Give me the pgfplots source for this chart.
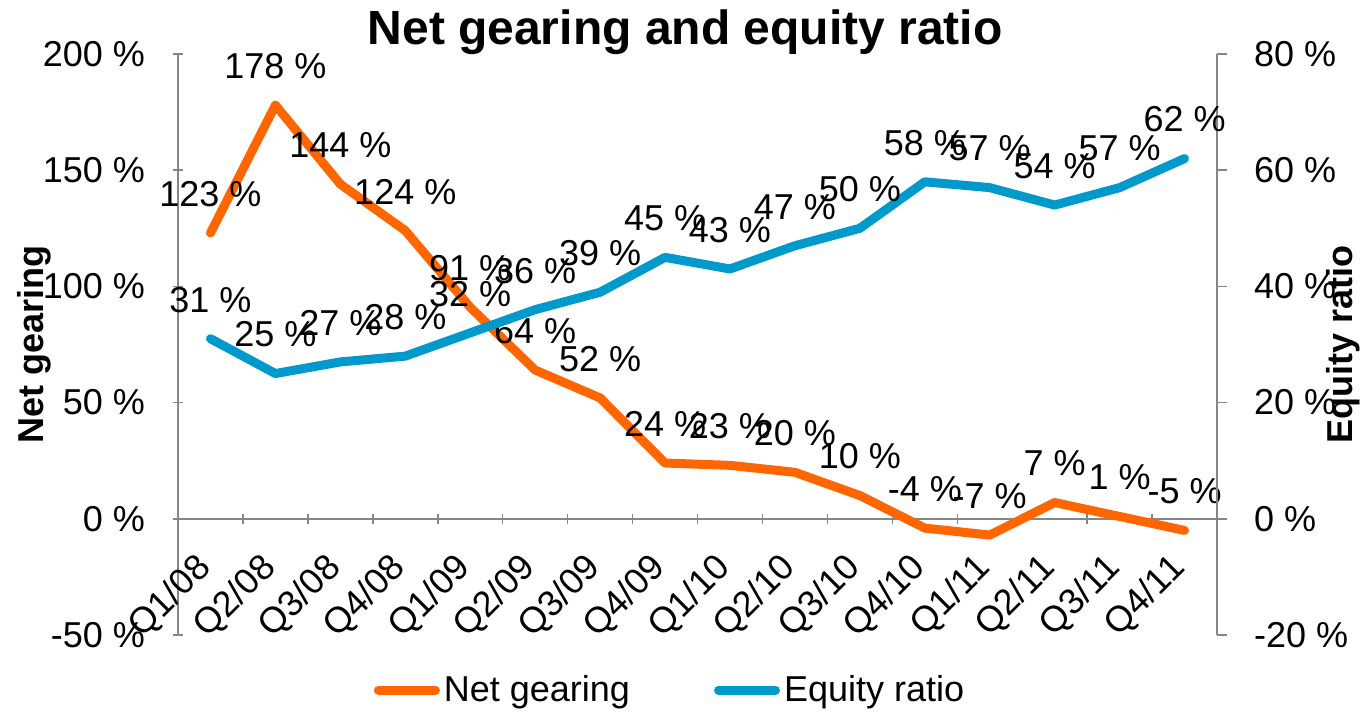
\documentclass[border=0pt]{standalone}
\usepackage{fontspec}
\setmainfont{Liberation Sans}
\usepackage{pgfplots}
\pgfplotsset{compat=1.18}
\usepackage{pgfplotstable}
\definecolor{ngorange}{HTML}{FF6600}
\definecolor{eqblue}{HTML}{0099CC}
\definecolor{axgray}{HTML}{868686}

\pgfplotstableread{
x ng eq
0 123 31
1 178 25
2 144 27
3 124 28
4 91 32
5 64 36
6 52 39
7 24 45
8 23 43
9 20 47
10 10 50
11 -4 58
12 -7 57
13 7 54
14 1 57
15 -5 62
}\data

\newcommand{\tfont}{\fontsize{18}{21.6}\selectfont}

\pgfplotsset{
  base/.style={
    scale only axis, width=519.5pt, height=290.5pt,
    xmin=-0.5, xmax=15.5, clip=false,
    tick style={draw=axgray, line width=0.75pt},
    major tick length=5pt, minor tick length=5pt,
    tick align=outside,
    ticklabel style={font=\tfont},
    hide obscured x ticks=false, hide obscured y ticks=false,
  },
  lbl/.style={nodes near coords, point meta=explicit symbolic,
    nodes near coords={\pgfplotspointmeta\ \%},
    every node near coord/.append style={font=\tfont, text=black, anchor=center, yshift=19.5pt}},
}

\begin{document}
\begin{tikzpicture}
\useasboundingbox (-89pt,-38.5pt) rectangle (592.5pt,317.5pt);
\begin{axis}[base,
  axis y line=left, axis x line=middle,
  axis line style={-, draw=axgray, line width=0.75pt},
  every outer y axis line/.append style={-},
  every inner x axis line/.append style={-},
  ymin=-50, ymax=200, ytick={-50,0,...,200},
  yticklabels={-50 \%,0 \%,50 \%,100 \%,150 \%,200 \%},
  yticklabel style={xshift=-10.5pt},
  xtick={0,...,15},
  xticklabels={Q1/08,Q2/08,Q3/08,Q4/08,Q1/09,Q2/09,Q3/09,Q4/09,Q1/10,Q2/10,Q3/10,Q4/10,Q1/11,Q2/11,Q3/11,Q4/11},
  minor xtick={-0.5,0.5,...,15.5},
  major x tick style={draw=none},
  xticklabel style={rotate=45, anchor=east, font=\tfont},
  xticklabel shift=17pt,
  title={Net gearing and equity ratio},
  title style={font=\fontsize{24}{28}\selectfont\bfseries, at={(axis description cs:0.488,0.995)}, anchor=base},
  ylabel={Net gearing},
  ylabel style={font=\tfont\bfseries, at={(axis description cs:-0.138,0.5)}, anchor=center},
  legend style={draw=none, fill=none, at={(axis description cs:0.4745,-0.0947)}, anchor=center,
    legend columns=2, font=\tfont, inner sep=0pt,
    /tikz/every even column/.append style={column sep=40pt}},
  legend image code/.code={\draw[#1] (0pt,0pt) -- (28.5pt,0pt);},
]
\addplot[ngorange, line width=4.5pt, line join=round, line cap=round, lbl, forget plot]
  table[x=x, y=ng, meta=ng]{\data};
\addlegendimage{ngorange, line width=4.5pt, line cap=round}
\addlegendentry{Net gearing}
\addlegendimage{eqblue, line width=4.5pt, line cap=round}
\addlegendentry{Equity ratio}
\end{axis}
\begin{axis}[base,
  axis y line*=right, axis x line=none,
  axis line style={-, draw=axgray, line width=0.75pt},
  ymin=-20, ymax=80, ytick={-20,0,...,80},
  yticklabels={-20 \%,0 \%,20 \%,40 \%,60 \%,80 \%},
  yticklabel style={xshift=10pt},
  ylabel={Equity ratio},
  ylabel style={font=\tfont\bfseries, at={(axis description cs:1.1213,0.5)}, anchor=center},
]
\addplot[eqblue, line width=4.5pt, line join=round, line cap=round, lbl]
  table[x=x, y=eq, meta=eq]{\data};
\end{axis}
\end{tikzpicture}
\end{document}
